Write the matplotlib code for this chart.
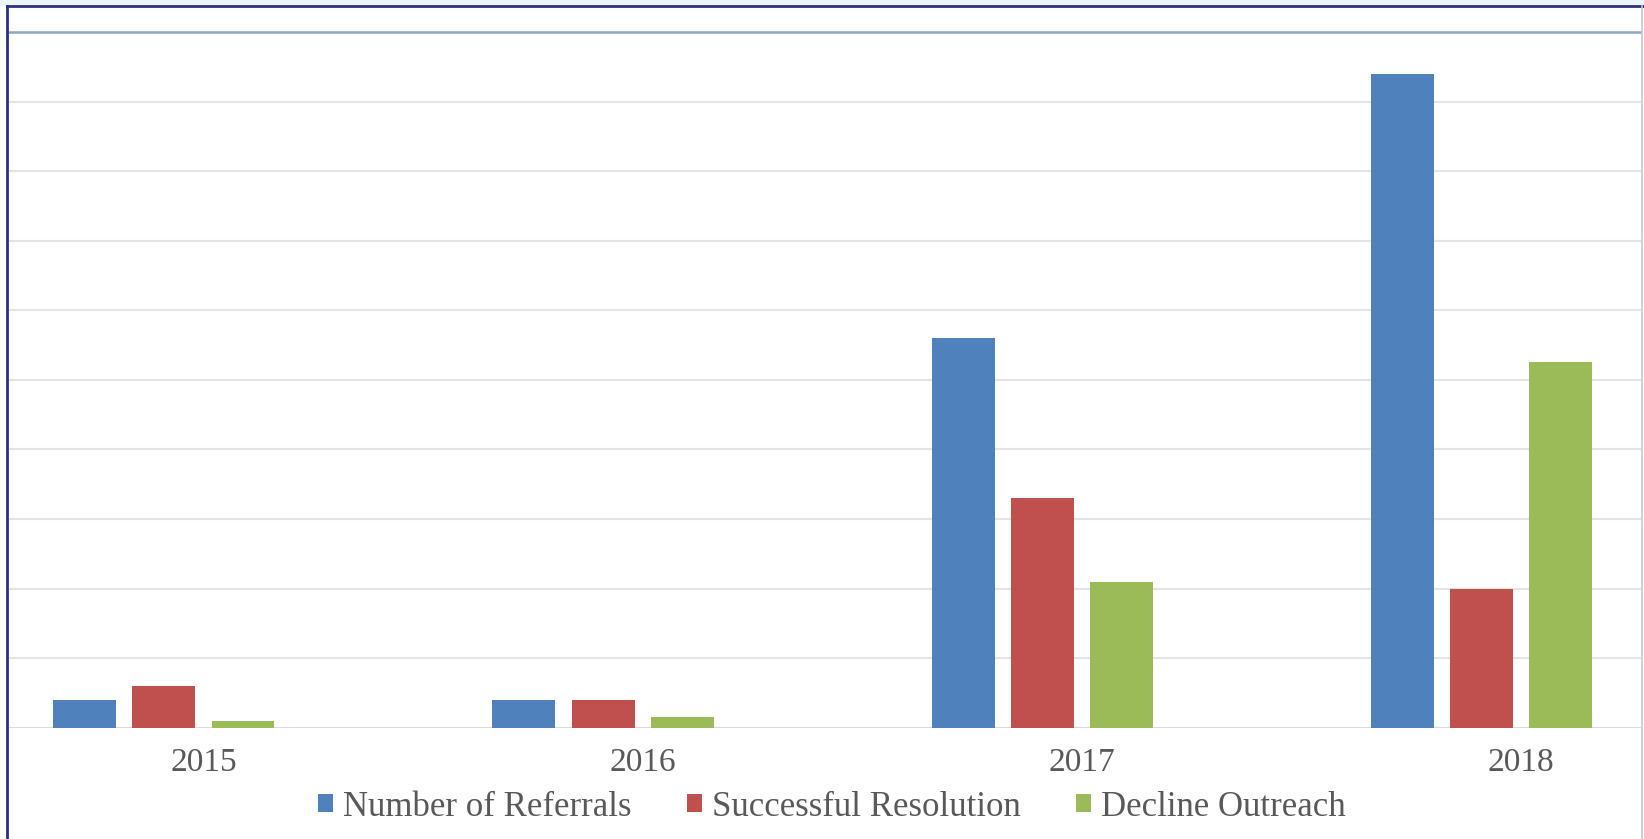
import matplotlib
matplotlib.use("Agg")
import matplotlib.pyplot as plt
from matplotlib.lines import Line2D
from matplotlib.patches import Rectangle
import numpy as np

years = ["2015", "2016", "2017", "2018"]
series_names = ["Number of Referrals", "Successful Resolution", "Decline Outreach"]
referrals = [8, 8, 112, 188]
resolution = [12, 8, 66, 40]
decline = [2, 3, 42, 105]
colors = ["#4F81BD", "#C0504D", "#9BBB59"]

W, H = 1644, 839
fig = plt.figure(figsize=(W / 100, H / 100), dpi=100)
fig.patch.set_facecolor("white")

# light band above frame
fig.patches.append(Rectangle((0, 1 - 6 / H), 1, 6 / H, transform=fig.transFigure,
                             facecolor="#EDF5FC", edgecolor="none", zorder=0))

left_px, right_px = 9, 1641
base_px, top_px = 727.7, 32
ax = fig.add_axes([left_px / W, 1 - base_px / H, (right_px - left_px) / W, (base_px - top_px) / H])

x = np.arange(len(years))
pitch = 0.1802
width = 0.1432
series = [referrals, resolution, decline]
offsets = [-1.5, -0.5, 0.5]
for vals, col, off, name in zip(series, colors, offsets, series_names):
    ax.bar(x + off * pitch, vals, width=width, color=col, edgecolor="none", label=name, zorder=3)

ax.set_ylim(0, 200)
ax.set_yticks(np.arange(0, 201, 20))
ax.set_xlim(-0.4425, 3.2725)
ax.set_xticks(x)
ax.set_xticklabels(years, fontfamily="Liberation Serif", fontsize=24, color="#595959")
ax.tick_params(axis="x", length=0, pad=14)
ax.tick_params(axis="y", length=0, labelleft=False)
ax.grid(axis="y", color="#E4E4E4", linewidth=1.6, zorder=0)
for s in ["left", "right", "bottom"]:
    ax.spines[s].set_visible(False)
ax.spines["top"].set_color("#8DA6C6")
ax.spines["top"].set_linewidth(1.8)
ax.axhline(0, color="#DADADA", linewidth=1.8, zorder=2)

leg = fig.legend(loc="center", bbox_to_anchor=(832 / W, 1 - 807 / H), ncol=3, frameon=False,
                 prop={"family": "Liberation Serif", "size": 25}, handlelength=0.42, handleheight=0.42,
                 handletextpad=0.3, columnspacing=1.6)
for t in leg.get_texts():
    t.set_color("#595959")

# frame lines
fig.add_artist(Line2D([7 / W, 7 / W], [0, 1 - 6 / H], transform=fig.transFigure, color="#2E3180", linewidth=2))
fig.add_artist(Line2D([7 / W, 1], [1 - 6 / H, 1 - 6 / H], transform=fig.transFigure, color="#2E3180", linewidth=2))
fig.add_artist(Line2D([1642 / W, 1642 / W], [0, 1 - 6 / H], transform=fig.transFigure, color="#C3CAD6", linewidth=1.2))

fig.savefig("out.png", dpi=100)
